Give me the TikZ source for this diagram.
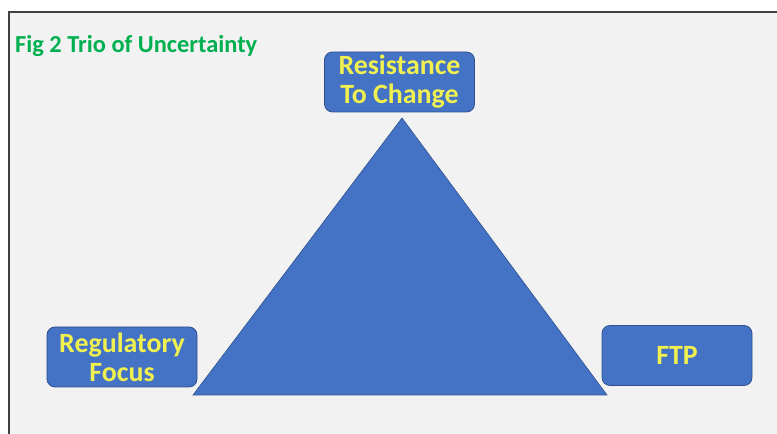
\documentclass[tikz,border=0pt]{standalone}
\usepackage{fontspec}
\setmainfont{Carlito}
\usetikzlibrary{positioning}
\definecolor{paneGray}{RGB}{242, 242, 242}
\definecolor{frameDark}{RGB}{64, 64, 64}
\definecolor{shapeBlue}{RGB}{68, 114, 196}
\definecolor{edgeBlue}{RGB}{47, 82, 143}
\definecolor{labelYellow}{RGB}{240, 240, 80}
\definecolor{titleGreen}{RGB}{0, 176, 80}
\tikzset{
    % Base style for the corner boxes
    factorBox/.style={
        rectangle,
        rounded corners=8bp,
        minimum width=150bp,
        minimum height=60bp,
        align=center,
        inner sep=0bp,
        fill=shapeBlue,
        draw=edgeBlue,
        line width=0.8bp,
        text=labelYellow,
        font=\bfseries\fontsize{28}{29}\selectfont
    },
    % Title style
    figTitle/.style={font=\bfseries\fontsize{24.5}{28}\selectfont, text=titleGreen, anchor=base west, inner sep=0pt}
}
\begin{document}
\begin{tikzpicture}[x=1bp, y=1bp]

    % --- Page and frame ---
    \useasboundingbox (0,0) rectangle (777,434);
    \fill [white] (0,0) rectangle (777,434);
    \fill [paneGray] (9,0) rectangle (777,422);
    \draw [frameDark, line width=1.2bp] (9,0) -- (9,422) -- (777,422);

    % --- Title ---
    \node (title) [figTitle] at (15,381) {Fig 2 Trio of Uncertainty};

    % --- Triangle ---
    \coordinate (apex) at (402,316);
    \coordinate (baseL) at (193,39);
    \coordinate (baseR) at (607,39);
    \filldraw [fill=shapeBlue, draw=edgeBlue, line width=0.6bp] (apex) -- (baseR) -- (baseL) -- cycle;

    % --- Corner boxes ---
    \node (resist) [factorBox] at (399.5,352) {Resistance\\To Change};
    \node (regfocus) [factorBox] at (122,77) {Regulatory\\Focus};
    \node (ftp) [factorBox] at (677,78.5) {FTP};

\end{tikzpicture}
\end{document}
